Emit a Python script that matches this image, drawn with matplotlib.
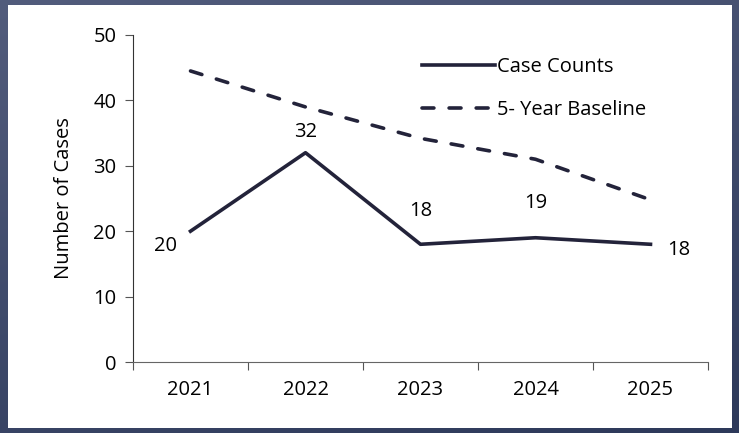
import matplotlib.pyplot as plt
import numpy as np

years = ["2021", "2022", "2023", "2024", "2025"]
case_counts = [20, 32, 18, 19, 18]
baseline = [44.5, 39.0, 34.2, 31.0, 24.8]

plt.rcParams['font.family'] = ['Open Sans', 'DejaVu Sans']

fig = plt.figure(figsize=(7.39, 4.33), dpi=100)

# slate background with a soft gradient
bg = fig.add_axes([0, 0, 1, 1])
g = np.linspace(0, 1, 200)
grad = (g[None, :] * 0.3 + g[:, None] * 0.7)
c1 = np.array([0x52, 0x5c, 0x7c]) / 255
c2 = np.array([0x2d, 0x39, 0x5a]) / 255
img = c1[None, None, :] * (1 - grad[..., None]) + c2[None, None, :] * grad[..., None]
bg.imshow(img, aspect='auto', extent=[0, 1, 1, 0])
bg.set_xlim(0, 1)
bg.set_ylim(1, 0)
bg.axis('off')
W, H = 739, 433
bg.add_patch(plt.Rectangle((8 / W, 5 / H), (732 - 8) / W, (428 - 5) / H,
                           facecolor='white', edgecolor='none'))

ax = fig.add_axes([133 / W, 1 - 362 / H, (708 - 133) / W, (362 - 35) / H])
ax.set_facecolor('none')
x = np.arange(len(years))
line_col = '#23233a'
fs = 14.5
ax.plot(x, case_counts, color=line_col, lw=2.6, label='Case Counts')
ax.plot(x, baseline, color=line_col, lw=2.6, ls=(0, (3.3, 4.2)),
        dash_capstyle='round', label='5- Year Baseline')

ax.set_xlim(-0.5, len(years) - 0.5)
ax.set_ylim(0, 50)
ax.set_yticks(range(0, 51, 10))
ax.set_xticks(np.arange(-0.5, len(years), 1), minor=False)
ax.set_xticklabels([])
ax.set_xticks(x, minor=True)
ax.set_xticklabels(years, minor=True)
ax.tick_params(axis='x', which='minor', length=0, pad=13, labelsize=fs)
ax.tick_params(axis='x', which='major', direction='out', length=6, color='#555555')
ax.tick_params(axis='y', direction='out', length=6, labelsize=fs, pad=6, color='#555555')
for s in ['top', 'right']:
    ax.spines[s].set_visible(False)
ax.spines['left'].set_color('#333333')
ax.spines['bottom'].set_color('#666666')
ax.set_ylabel('Number of Cases', fontsize=fs, labelpad=14)

offsets = [(-18, -11), (0, 15), (0, 24), (0, 25), (20, -4)]
for xi, v, (dx, dy) in zip(x, case_counts, offsets):
    ax.annotate(str(v), (xi, v), xytext=(dx, dy), textcoords='offset points',
                ha='center', va='center', fontsize=fs)

ax.legend(loc='upper left', bbox_to_anchor=((422 - 133) / 575, (362 - 57) / 327),
          frameon=False, fontsize=fs, borderaxespad=0, borderpad=0,
          handlelength=3.6, handletextpad=0.1, labelspacing=1.15)

fig.savefig('out.png', dpi=100)
